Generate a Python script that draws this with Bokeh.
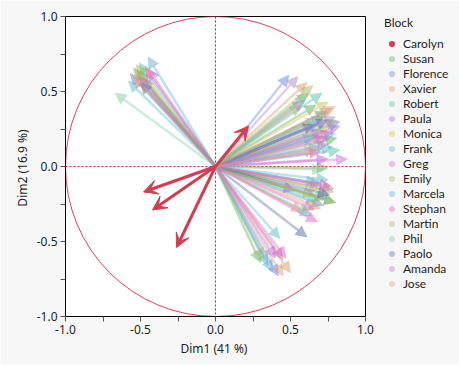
from bokeh.plotting import figure
from bokeh.models import (Arrow, VeeHead, NormalHead, ColumnDataSource, Span, Legend, LegendItem,
                          FixedTicker, NumeralTickFormatter, Range1d)
from bokeh.embed import file_html
from bokeh.resources import INLINE

# ---------------- data ----------------
blocks = ["Carolyn", "Susan", "Florence", "Xavier", "Robert", "Paula", "Monica", "Frank",
          "Greg", "Emily", "Marcela", "Stephan", "Martin", "Phil", "Paolo", "Amanda", "Jose"]

colors = ["#D43D51", "#5DB05D", "#6688E0", "#DE9C6A", "#55C2AA", "#B366E8", "#CCC255", "#55C0C8",
          "#DC66D6", "#A5BA66", "#62AED6", "#DC6AB4", "#9FB268", "#86CDA2", "#566CA0", "#AC88C2",
          "#E89A8A"]

dim1 = {
    "Carolyn":  [0.22, -0.48, -0.42, -0.26],
    "Susan":    [-0.52, 0.62, 0.67, 0.81, 0.75, 0.80, 0.30],
    "Florence": [-0.57, 0.49, 0.83, 0.72, 0.72, 0.42],
    "Xavier":   [-0.53, 0.61, 0.78, 0.72, 0.70, 0.50],
    "Robert":   [-0.51, 0.71, 0.83, 0.68, 0.69, 0.35],
    "Paula":    [-0.51, 0.59, 0.83, 0.72, 0.75, 0.53, 0.40],
    "Monica":   [-0.55, 0.75, 0.76, 0.70, 0.74],
    "Frank":    [-0.58, 0.70, 0.78, 0.80, 0.75, 0.64, 0.43],
    "Greg":     [-0.45, 0.88, 0.78, 0.77, 0.68, 0.47],
    "Emily":    [-0.53, 0.65, 0.81, 0.79, 0.32],
    "Marcela":  [-0.45, 0.69, 0.74, 0.66, 0.75, 0.38],
    "Stephan":  [-0.47, 0.75, 0.70, 0.79, 0.66, 0.45],
    "Martin":   [-0.54, 0.75, 0.57, 0.80, 0.66],
    "Phil":     [-0.67, 0.61, 0.68, 0.72, 0.63],
    "Paolo":    [-0.50, 0.66, 0.75, 0.76, 0.61],
    "Amanda":   [-0.49, 0.55, 0.80, 0.75, 0.71],
    "Jose":     [-0.55, 0.80, 0.67, 0.58, 0.45],
}
dim2 = {
    "Carolyn":  [0.27, -0.17, -0.29, -0.54],
    "Susan":    [0.64, 0.49, 0.41, 0.19, -0.01, -0.24, -0.64],
    "Florence": [0.62, 0.61, 0.30, 0.33, -0.26, -0.73],
    "Xavier":   [0.61, 0.56, 0.39, 0.20, -0.28, -0.71],
    "Robert":   [0.69, 0.49, 0.11, -0.11, -0.23, -0.66],
    "Paula":    [0.60, 0.44, 0.27, 0.24, 0.05, -0.16, -0.61],
    "Monica":   [0.66, 0.43, 0.26, -0.15, -0.22],
    "Frank":    [0.57, 0.13, 0.13, 0.22, -0.09, -0.33, -0.48],
    "Greg":     [0.65, 0.05, 0.23, -0.13, -0.37, -0.61],
    "Emily":    [0.68, 0.54, 0.31, -0.17, -0.62],
    "Marcela":  [0.73, 0.29, 0.37, 0.20, -0.21, -0.70],
    "Stephan":  [0.66, 0.19, 0.10, -0.15, -0.29, -0.62],
    "Martin":   [0.65, 0.36, 0.41, -0.24, -0.19],
    "Phil":     [0.49, 0.47, 0.32, -0.02, -0.31],
    "Paolo":    [0.56, 0.28, 0.31, -0.19, -0.47],
    "Amanda":   [0.59, 0.60, 0.33, 0.15, -0.12],
    "Jose":     [0.60, 0.40, 0.11, -0.30, -0.73],
}

x_ticks = [-1.0, -0.5, 0.0, 0.5, 1.0]
y_ticks = [-1.0, -0.5, 0.0, 0.5, 1.0]
circle_center = (0.0, 0.0)
circle_radius = 1.0
x_label = "Dim1  (41 %)"
y_label = "Dim2  (16.9 %)"
legend_title = "Block"

FONT = "Noto Sans"
LFONT = "Lato"
TXT = "#1e1e1e"
BG = "#f7f7f7"

# ---------------- figure ----------------
p = figure(frame_width=300, frame_height=300,
           x_range=Range1d(-1, 1), y_range=Range1d(-1, 1),
           output_backend="svg", toolbar_location=None,
           min_border_left=65, min_border_top=16, min_border_bottom=48, min_border_right=92,
           background_fill_color="white", border_fill_color=BG)
p.grid.visible = False
p.outline_line_color = "black"
p.outline_line_width = 1

for ax, ticks, lab in ((p.xaxis[0], x_ticks, x_label), (p.yaxis[0], y_ticks, y_label)):
    ax.ticker = FixedTicker(ticks=ticks, minor_ticks=[t + 0.25 for t in ticks[:-1]])
    ax.formatter = NumeralTickFormatter(format="0.0")
    ax.axis_label = lab
    ax.axis_label_text_font = FONT
    ax.axis_label_text_font_size = "12px"
    ax.axis_label_text_font_style = "normal"
    ax.axis_label_text_color = TXT
    ax.major_label_text_font = FONT
    ax.major_label_text_font_size = "12px"
    ax.major_label_text_color = TXT
    ax.axis_line_color = "black"
    ax.major_tick_line_color = "#555555"
    ax.minor_tick_line_color = "#555555"
    ax.major_tick_in = 0
    ax.major_tick_out = 5
    ax.minor_tick_in = 0
    ax.minor_tick_out = 5
    ax.major_label_standoff = 3
    ax.axis_label_standoff = 3

# unit circle
p.circle(x=[circle_center[0]], y=[circle_center[1]], radius=circle_radius,
         fill_color=None, line_color="#E0405A", line_width=1)

# reference lines
p.add_layout(Span(location=0, dimension="width", line_color="#D6243A",
                  line_dash="2 2", line_width=1))
p.add_layout(Span(location=0, dimension="height", line_color="#B8203A",
                  line_dash="2 2", line_width=1))

order = blocks[1:] + blocks[:1]  # draw Carolyn on top
for name in order:
    c = colors[blocks.index(name)]
    xs = dim1[name]
    ys = dim2[name]
    src = ColumnDataSource(dict(x0=[circle_center[0]] * len(xs), y0=[circle_center[1]] * len(ys),
                                x1=xs, y1=ys))
    if name == "Carolyn":
        head = VeeHead(size=14, fill_color=c, fill_alpha=1.0, line_color=c, line_alpha=1.0)
        p.add_layout(Arrow(end=head, x_start="x0", y_start="y0", x_end="x1", y_end="y1",
                           source=src, line_color=c, line_alpha=1.0, line_width=3))
    else:
        head = NormalHead(size=11, fill_color=c, fill_alpha=0.5, line_color=c, line_alpha=0.25,
                          line_width=1)
        p.add_layout(Arrow(end=head, x_start="x0", y_start="y0", x_end="x1", y_end="y1",
                           source=src, line_color=c, line_alpha=0.4, line_width=2.5))

items = []
for name, c in zip(blocks, colors):
    a = 1.0 if name == "Carolyn" else 0.4
    lsrc = ColumnDataSource(dict(x=[circle_center[0]], y=[circle_center[1]]))
    r = p.scatter(x="x", y="y", source=lsrc, marker="circle", size=0,
                  fill_color=c, fill_alpha=a, line_color=None)
    items.append(LegendItem(label=name, renderers=[r]))

legend = Legend(items=items, title=legend_title, location=(19, 25),
                title_text_font=LFONT, title_text_font_size="12px", title_text_color=TXT,
                title_text_font_style="normal", title_standoff=6,
                label_text_font=LFONT, label_text_font_size="12px", label_text_color=TXT,
                glyph_width=15, glyph_height=15, label_height=13, spacing=0,
                label_standoff=4, padding=0, margin=0,
                border_line_color=None, background_fill_color=BG, background_fill_alpha=1)
p.add_layout(legend, "right")

open("out.html", "w").write(file_html(p, INLINE))
